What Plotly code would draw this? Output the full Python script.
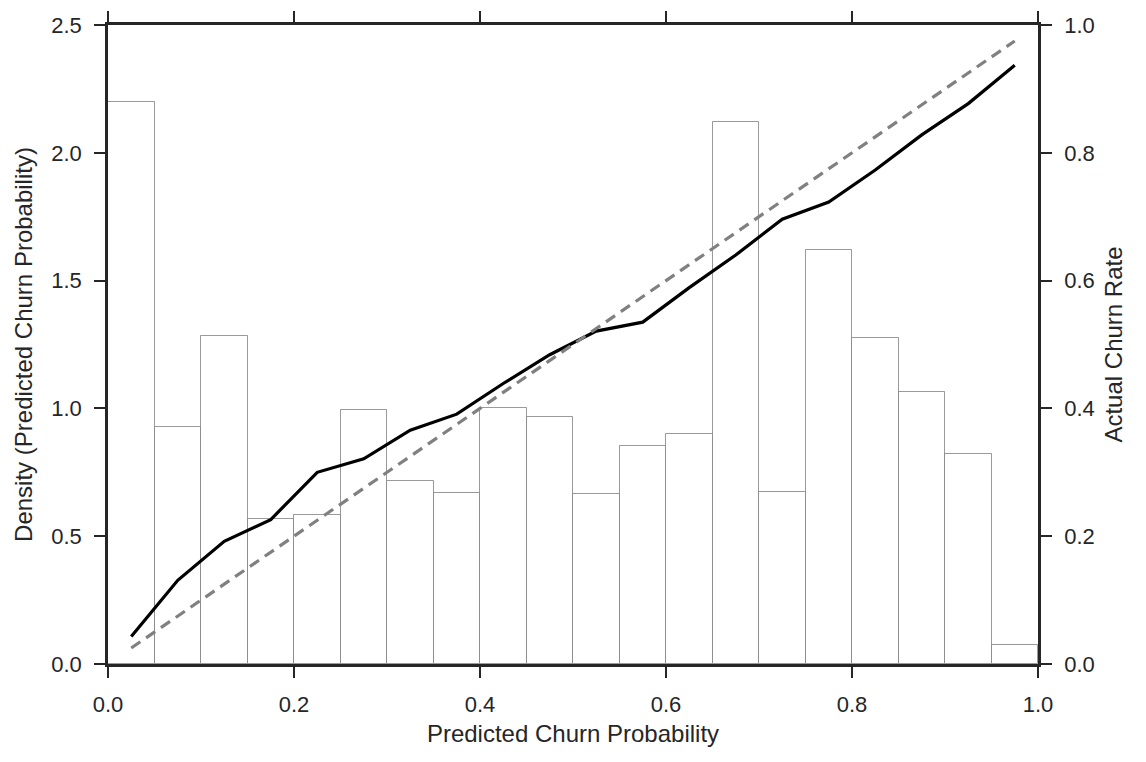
import plotly.graph_objects as go

bin_centers = [0.025, 0.075, 0.125, 0.175, 0.225, 0.275, 0.325, 0.375, 0.425, 0.475,
               0.525, 0.575, 0.625, 0.675, 0.725, 0.775, 0.825, 0.875, 0.925, 0.975]
density = [2.20, 0.927, 1.283, 0.567, 0.583, 0.994, 0.716, 0.669, 1.002, 0.966,
           0.665, 0.853, 0.90, 2.12, 0.673, 1.62, 1.275, 1.064, 0.82, 0.074]
actual_rate = [0.043, 0.131, 0.192, 0.226, 0.300, 0.321, 0.366, 0.391, 0.439, 0.484,
               0.521, 0.535, 0.589, 0.640, 0.696, 0.723, 0.773, 0.828, 0.877, 0.937]
diag_x = [0.025, 0.975]
diag_y = [0.025, 0.975]

font_family = "Liberation Sans, Arial, sans-serif"
axis_col = "#262626"

fig = go.Figure()
fig.add_trace(go.Bar(x=bin_centers, y=density, width=0.05,
                     marker=dict(color="white", line=dict(color="rgba(120,120,120,0.75)", width=1)),
                     yaxis="y", showlegend=False))
fig.add_trace(go.Scatter(x=bin_centers, y=actual_rate, mode="lines",
                         line=dict(color="black", width=3.2), yaxis="y2", showlegend=False))
fig.add_trace(go.Scatter(x=diag_x, y=diag_y, mode="lines",
                         line=dict(color="#808080", width=3.2, dash="11px,7px"),
                         yaxis="y2", showlegend=False))

common = dict(showline=True, linecolor=axis_col, linewidth=2.5, ticks="outside",
              ticklen=11, tickwidth=2, tickcolor=axis_col, showgrid=False, zeroline=False,
              ticklabelstandoff=8,
              tickfont=dict(size=22, color=axis_col, family=font_family))

fig.update_layout(
    width=1146, height=762,
    margin=dict(l=108, r=108, t=25, b=98),
    plot_bgcolor="white", paper_bgcolor="white",
    bargap=0,
    font=dict(family=font_family, color=axis_col),
    xaxis=dict(range=[0, 1], dtick=0.2, tick0=0, tickformat=".1f", mirror="allticks",
               title=dict(text="Predicted Churn Probability", font=dict(size=24, color=axis_col), standoff=10),
               **common),
    yaxis=dict(range=[0, 2.5], dtick=0.5, tick0=0, tickformat=".1f",
               title=dict(text="Density (Predicted Churn Probability)", font=dict(size=24, color=axis_col), standoff=12),
               **common),
    yaxis2=dict(range=[0, 1], dtick=0.2, tick0=0, tickformat=".1f", overlaying="y", side="right",
                title=dict(text="Actual Churn Rate", font=dict(size=24, color=axis_col), standoff=12),
                **common),
)

fig.write_html("out.html")
